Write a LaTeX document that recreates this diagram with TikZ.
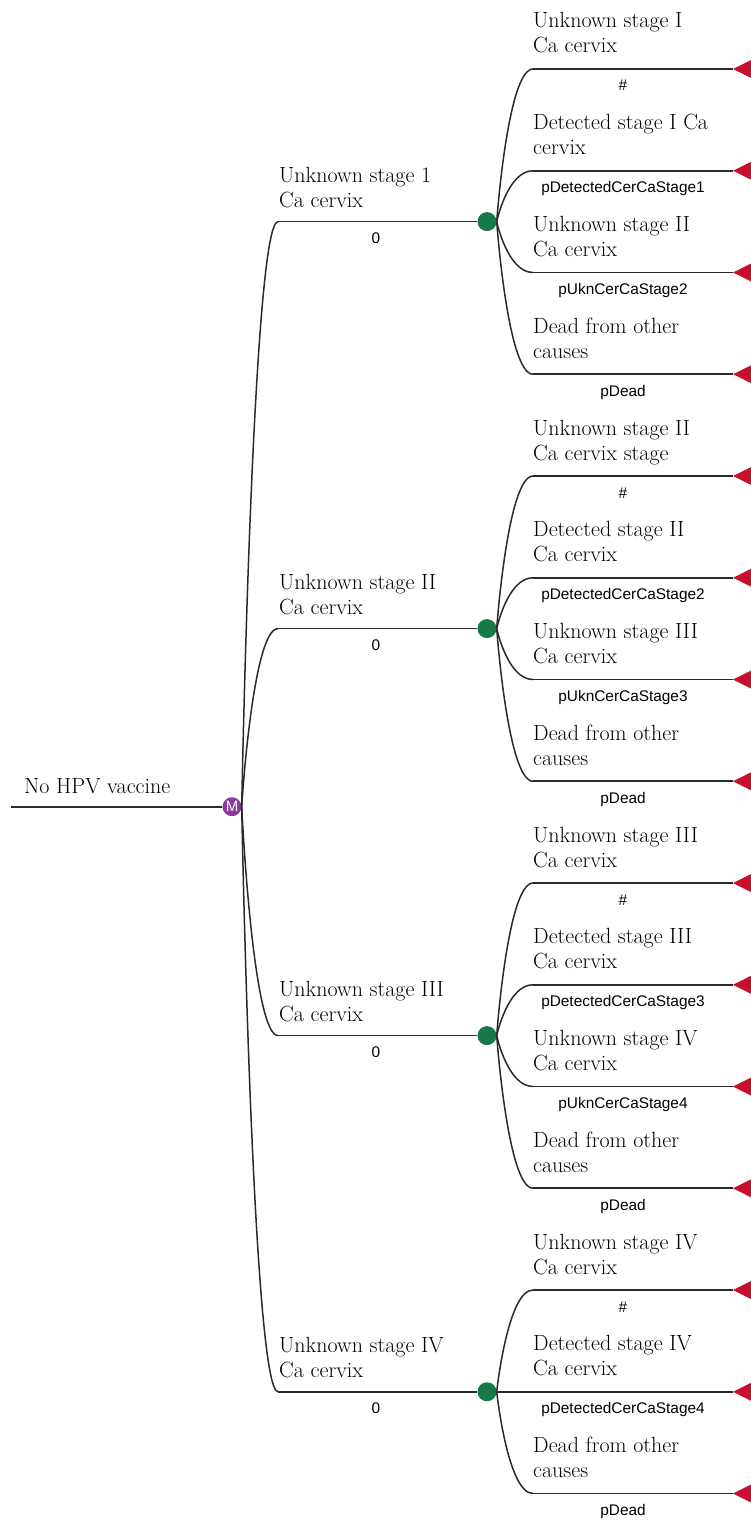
\documentclass[tikz,border=0pt]{standalone}
\usepackage{fontspec}
\newfontfamily\lsans{Liberation Sans}
\usetikzlibrary{calc}
\definecolor{mpurple}{HTML}{8E3A9E}
\definecolor{cgreen}{HTML}{17784A}
\definecolor{tred}{HTML}{C8102E}
\definecolor{ink}{HTML}{2A2A2A}
% rounded branch from a node to the start of a horizontal arm
\newcommand\branch[2]{\draw[branchcurve] let \p1=(#1), \p2=(#2) in
  (\p1) .. controls (\p1) and ({\x1+0.3*(\x2-\x1)},\y2) .. (\p2);}
\begin{document}
\begin{tikzpicture}[x=1pt,y=-1pt,
  edge/.style={draw=ink, line width=1.7pt},
  branchcurve/.style={draw=ink, line width=1.5pt},
  armlabel/.style={font=\fontsize{22}{25}\selectfont, align=left, anchor=base west, inner sep=0},
  problabel/.style={font=\lsans\fontsize{15.4}{17}\selectfont, anchor=base, inner sep=0},
  markov/.style={circle, fill=mpurple, minimum size=19pt, inner sep=0, text=white,
    font=\lsans\fontsize{15}{15}\selectfont},
  chance/.style={circle, fill=cgreen, minimum size=19pt, inner sep=0},
  termfill/.style={fill=tred},
]
\clip (0,0) rectangle (751,1522);

% root
\coordinate (r0) at (11,806.7);
\node[markov] (M) at (232,806.7) {M};
\draw[edge] (r0) -- (M.west);
\node[armlabel] (rl) at (24,793) {No HPV vaccine};

% first-level arms
\foreach \i/\y/\txt in {1/221.6/{Unknown stage 1\\Ca cervix},
                        2/628.6/{Unknown stage II\\Ca cervix},
                        3/1035.6/{Unknown stage III\\Ca cervix},
                        4/1391.75/{Unknown stage IV\\Ca cervix}}{
  \coordinate (b\i) at (278,\y);
  \node[chance] (c\i) at (487,\y) {};
  \branch{M.east}{b\i}
  \draw[edge] (b\i) -- (c\i.west);
  \node[armlabel] (bl\i) at (279,\y-14) {\txt};
  \node[problabel] (bp\i) at (376,\y+22) {0};
}

% terminal arms
\foreach \k/\g/\txt/\pr in {
   0/1/{Unknown stage I\\Ca cervix}/\#,
   1/1/{Detected stage I Ca\\cervix}/pDetectedCerCaStage1,
   2/1/{Unknown stage II\\Ca cervix}/pUknCerCaStage2,
   3/1/{Dead from other\\causes}/pDead,
   4/2/{Unknown stage II\\Ca cervix stage}/\#,
   5/2/{Detected stage II\\Ca cervix}/pDetectedCerCaStage2,
   6/2/{Unknown stage III\\Ca cervix}/pUknCerCaStage3,
   7/2/{Dead from other\\causes}/pDead,
   8/3/{Unknown stage III\\Ca cervix}/\#,
   9/3/{Detected stage III\\Ca cervix}/pDetectedCerCaStage3,
  10/3/{Unknown stage IV\\Ca cervix}/pUknCerCaStage4,
  11/3/{Dead from other\\causes}/pDead,
  12/4/{Unknown stage IV\\Ca cervix}/\#,
  13/4/{Detected stage IV\\Ca cervix}/pDetectedCerCaStage4,
  14/4/{Dead from other\\causes}/pDead}{
  \pgfmathsetmacro\ty{69+101.75*\k}
  \coordinate (a\k) at (533,\ty);
  \coordinate (t\k) at (733,\ty);
  \branch{c\g.east}{a\k}
  \draw[edge] (a\k) -- (t\k);
  \fill[termfill] (t\k) -- ++(25,-12.5) -- ++(0,25) -- cycle;
  \node[armlabel] (tl\k) at (533,\ty-16) {\txt};
  \node[problabel] (tp\k) at (623,\ty+22) {\pr};
}
\end{tikzpicture}
\end{document}
